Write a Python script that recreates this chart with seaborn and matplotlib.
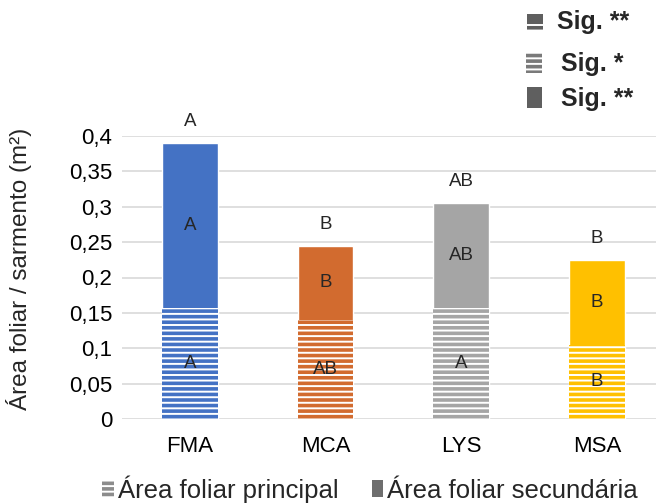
import matplotlib
matplotlib.use("Agg")
import matplotlib.pyplot as plt
import seaborn as sns
from matplotlib.patches import Patch, Rectangle

# data
cultivars = ['FMA', 'MCA', 'LYS', 'MSA']
principal = [0.157, 0.140, 0.157, 0.105]
secundaria = [0.233, 0.105, 0.148, 0.120]
letras_total = ['A', 'B', 'AB', 'B']
letras_sec = ['A', 'B', 'AB', 'B']
letras_pri = ['A', 'AB', 'A', 'B']
yticks = [0, 0.05, 0.1, 0.15, 0.2, 0.25, 0.3, 0.35, 0.4]
ytick_labels = ['0', '0,05', '0,1', '0,15', '0,2', '0,25', '0,3', '0,35', '0,4']
colors = ['#4472C4', '#D26B2F', '#A5A5A5', '#FFC000']

total = [p + s for p, s in zip(principal, secundaria)]

sns.set_style("white")
plt.rcParams['font.family'] = ['Liberation Sans', 'DejaVu Sans']
plt.rcParams['hatch.linewidth'] = 1.4

fig = plt.figure(figsize=(6.56, 5.03), dpi=100)
ax = fig.add_axes([122/656, 84/503, 534/656, 283/503])

# secondary (stacked) = full bar, principal drawn over it with stripes
sns.barplot(x=cultivars, y=total, hue=cultivars, palette=colors, width=0.41,
            saturation=1, legend=False, ax=ax, zorder=2)
sns.barplot(x=cultivars, y=principal, hue=cultivars, palette=colors, width=0.41,
            saturation=1, legend=False, ax=ax, zorder=3)
for bar in ax.patches[4:]:
    bar.set_hatch('---')
    bar.set_edgecolor('white')
    bar.set_linewidth(0)

for i in range(len(cultivars)):
    ax.text(i, total[i] + 0.030, letras_total[i], ha='center', va='center', fontsize=13.5)
    ax.text(i, principal[i] + secundaria[i] / 2, letras_sec[i], ha='center', va='center',
            fontsize=13.5, zorder=5)
    ax.text(i, principal[i] / 2, letras_pri[i], ha='center', va='center', fontsize=13.5, zorder=5)

ax.set_ylim(0, 0.4)
ax.set_xlim(-0.5, 3.435)
ax.set_yticks(yticks)
ax.set_yticklabels(ytick_labels)
ax.yaxis.grid(True, color='#D9D9D9', linewidth=1.2, zorder=0)
ax.set_axisbelow(True)
ax.tick_params(axis='both', length=0, labelsize=16, colors='black')
ax.tick_params(axis='y', pad=7)
ax.tick_params(axis='x', pad=12)
sns.despine(ax=ax, left=True, bottom=True)
ax.set_xlabel('')
ax.set_ylabel('Área foliar / sarmento (m²)', fontsize=17.5)
ax.yaxis.set_label_coords(-0.168, 0.53)

# bottom legend
handles = [Patch(facecolor='#8C8C8C', edgecolor='white', linewidth=0, hatch='---'),
           Patch(facecolor='#6E6E6E', edgecolor='none')]
fig.legend(handles, ['Área foliar principal', 'Área foliar secundária'],
           loc='center', bbox_to_anchor=(370/656, 14/503), ncol=2, frameon=False,
           fontsize=18.5, handlelength=0.45, handleheight=0.65, handletextpad=0.15,
           columnspacing=1.3)

# significance keys (top right)
gray = '#5F5F5F'
fig.patches.append(Rectangle((527/656, 1 - 30/503), 16/656, 16/503, transform=fig.transFigure,
                             facecolor=gray, edgecolor='white', linewidth=0, hatch='---'))
fig.patches.append(Rectangle((527/656, 1 - 22/503), 16/656, 8/503, transform=fig.transFigure,
                             facecolor=gray, edgecolor='none'))
fig.patches.append(Rectangle((526/656, 1 - 73/503), 16/656, 21/503, transform=fig.transFigure,
                             facecolor='#7A7A7A', edgecolor='white', linewidth=0, hatch='---'))
fig.patches.append(Rectangle((527/656, 1 - 108/503), 15/656, 21/503, transform=fig.transFigure,
                             facecolor=gray, edgecolor='none'))
fig.text(557/656, 1 - 22/503, 'Sig. **', fontsize=18, fontweight='bold', va='center')
fig.text(561/656, 1 - 64/503, 'Sig. *', fontsize=18, fontweight='bold', va='center')
fig.text(561/656, 1 - 99/503, 'Sig. **', fontsize=18, fontweight='bold', va='center')

fig.savefig('out.png', dpi=100)
